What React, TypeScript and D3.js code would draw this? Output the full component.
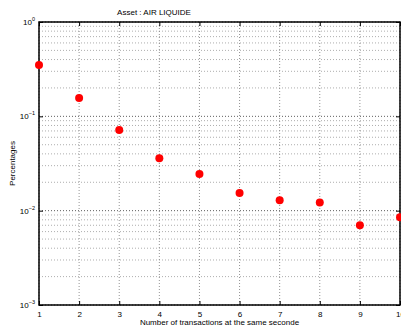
import React, { useRef, useEffect } from "react";
import * as d3 from "d3";

const nbTransactions = [1, 2, 3, 4, 5, 6, 7, 8, 9, 10];
const percentages = [0.35, 0.156, 0.0716, 0.036, 0.0245, 0.0154, 0.0129, 0.0122, 0.007, 0.0085];
const decadeTicks = [1e-3, 1e-2, 1e-1, 1];
const decadeExponents = ["−3", "−2", "−1", "0"];

const App = () => {
  const ref = useRef<SVGSVGElement>(null);

  useEffect(() => {
    const svg = d3.select(ref.current);
    svg.selectAll("*").remove();

    const margin = { top: 22, right: 1, bottom: 25, left: 39 };
    const fullW = 401;
    const fullH = 330;
    const width = fullW - margin.left - margin.right;
    const height = fullH - margin.top - margin.bottom;
    const font = "Liberation Sans, Arial, sans-serif";

    const g = svg.append("g").attr("transform", `translate(${margin.left},${margin.top})`);

    const x = d3.scaleLinear().domain([1, 10]).range([0, width]);
    const y = d3.scaleLog().domain([1e-3, 1]).range([height, 0]);

    // minor log grid
    const minor: number[] = [];
    [1e-3, 1e-2, 1e-1].forEach((d) => {
      for (let k = 2; k <= 9; k++) minor.push(d * k);
    });
    g.selectAll(".ygrid-minor")
      .data(minor)
      .enter()
      .append("line")
      .attr("x1", 0)
      .attr("x2", width)
      .attr("y1", (d) => y(d))
      .attr("y2", (d) => y(d))
      .attr("stroke", "#999")
      .attr("stroke-width", 0.8)
      .attr("stroke-dasharray", "1,2");

    g.selectAll(".ygrid")
      .data(decadeTicks)
      .enter()
      .append("line")
      .attr("x1", 0)
      .attr("x2", width)
      .attr("y1", (d) => y(d))
      .attr("y2", (d) => y(d))
      .attr("stroke", "#333")
      .attr("stroke-width", 0.8)
      .attr("stroke-dasharray", "1,2");

    g.selectAll(".xgrid")
      .data(nbTransactions)
      .enter()
      .append("line")
      .attr("x1", (d) => x(d))
      .attr("x2", (d) => x(d))
      .attr("y1", 0)
      .attr("y2", height)
      .attr("stroke", "#777")
      .attr("stroke-width", 0.8)
      .attr("stroke-dasharray", "1,2");

    // axes with inward ticks
    g.append("g")
      .attr("transform", `translate(0,${height})`)
      .call(d3.axisBottom(x).tickValues(nbTransactions).tickSize(-4).tickPadding(6).tickFormat(d3.format("d")))
      .call((a) => a.select(".domain").remove());
    g.append("g")
      .call(d3.axisTop(x).tickValues(nbTransactions).tickSize(-4).tickFormat(() => ""))
      .call((a) => a.select(".domain").remove());
    g.append("g")
      .call(d3.axisLeft(y).tickValues(decadeTicks).tickSize(-4).tickFormat(() => ""))
      .call((a) => a.select(".domain").remove());
    g.append("g")
      .attr("transform", `translate(${width},0)`)
      .call(d3.axisRight(y).tickValues(decadeTicks).tickSize(-4).tickFormat(() => ""))
      .call((a) => a.select(".domain").remove());

    g.selectAll(".tick line").attr("stroke", "#000").attr("stroke-width", 1);
    g.selectAll(".tick text").style("font-family", font).style("font-size", "8px").attr("fill", "#000");

    // y tick labels 10^n
    decadeTicks.forEach((d, i) => {
      const t = g
        .append("text")
        .attr("x", -4)
        .attr("y", y(d) + 3)
        .attr("text-anchor", "end")
        .style("font-family", font)
        .style("font-size", "8px");
      t.append("tspan").text("10");
      t.append("tspan").attr("dy", -4).style("font-size", "5.5px").text(decadeExponents[i]);
    });

    // frame
    g.append("rect")
      .attr("width", width)
      .attr("height", height)
      .attr("fill", "none")
      .attr("stroke", "#000")
      .attr("stroke-width", 1.5);

    g.selectAll(".pt")
      .data(nbTransactions)
      .enter()
      .append("circle")
      .attr("cx", (d) => x(d))
      .attr("cy", (d, i) => y(percentages[i]))
      .attr("r", 4)
      .attr("fill", "#ff0000");

    svg
      .append("text")
      .attr("x", 154)
      .attr("y", 15)
      .attr("text-anchor", "middle")
      .style("font-family", font)
      .style("font-size", "8px")
      .text("Asset : AIR LIQUIDE");

    svg
      .append("text")
      .attr("x", margin.left + width / 2)
      .attr("y", 325)
      .attr("text-anchor", "middle")
      .style("font-family", font)
      .style("font-size", "8px")
      .text("Number of transactions at the same seconde");

    svg
      .append("text")
      .attr("transform", `translate(15,${margin.top + height / 2}) rotate(-90)`)
      .attr("text-anchor", "middle")
      .style("font-family", font)
      .style("font-size", "8px")
      .text("Percentages");
  }, []);

  return (
    <svg
      ref={ref}
      width={401}
      height={330}
      style={{ position: "absolute", left: 0, top: 0, background: "#fff" }}
    />
  );
};

export default App;
